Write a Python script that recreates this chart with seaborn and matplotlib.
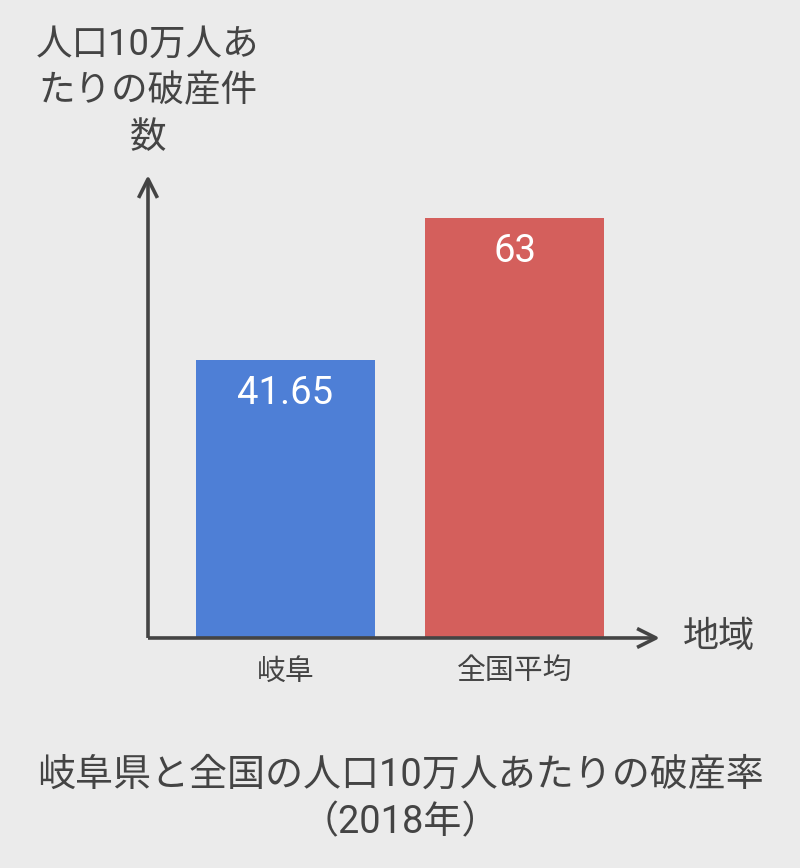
#!/usr/bin/env python3
"""
Bar chart: bankruptcies per 100k people, Gifu vs national average (2018).
"""
import matplotlib
matplotlib.use('Agg')
import matplotlib.pyplot as plt
import seaborn as sns
import pandas as pd

# Data
regions = ['岐阜', '全国平均']
rates = [41.65, 63]
bar_labels = ['41.65', '63']
colors = ['#4e7fd6', '#d45f5c']

title = '岐阜県と全国の人口10万人あたりの破産率\n（2018年）'
y_title = '人口10万人あ\nたりの破産件\n数'
x_title = '地域'

BG = '#ebebeb'
INK = '#444444'

sns.set_theme(style='white')
plt.rcParams['font.family'] = ['Roboto', 'Noto Sans CJK JP', 'DejaVu Sans']

df = pd.DataFrame({'region': regions, 'rate': rates})

fig = plt.figure(figsize=(8, 8.68), dpi=100, facecolor=BG)
ax = fig.add_axes([0.185, 0.265, 0.64, 0.5334])
ax.set_facecolor(BG)

sns.barplot(data=df, x='region', y='rate', hue='region', palette=colors,
            width=0.78, saturation=1, legend=False, linewidth=0, ax=ax)

ax.set_xlim(-0.6, 1.635)
ax.set_ylim(0, 69.45)

for s in ax.spines.values():
    s.set_visible(False)
ax.set_yticks([])
ax.set_xlabel('')
ax.set_ylabel('')
ax.tick_params(axis='x', length=0, pad=14, labelsize=20.8, labelcolor=INK)

# axis arrows
arrow = dict(arrowstyle='->', lw=2.6, color=INK, mutation_scale=34,
             shrinkA=0, shrinkB=0, capstyle='butt')
ax.annotate('', xy=(0, 1), xytext=(0, 0), xycoords='axes fraction',
            arrowprops=arrow, annotation_clip=False)
ax.annotate('', xy=(1, 0), xytext=(0, 0), xycoords='axes fraction',
            arrowprops=arrow, annotation_clip=False)

# value labels inside bars
for i, (v, lab) in enumerate(zip(rates, bar_labels)):
    ax.annotate(lab, xy=(i, v), xytext=(0, -24), textcoords='offset points',
                ha='center', va='center', color='white', fontsize=27.5)

fig.text(148 / 800, 1 - 91 / 868, y_title, ha='center', va='center',
         fontsize=26.3, color=INK, linespacing=1.38)
fig.text(683 / 800, 1 - 637 / 868, x_title, ha='left', va='center',
         fontsize=26, color=INK)
fig.text(0.5, 1 - 799 / 868, title, ha='center', va='center',
         fontsize=27.4, color=INK, linespacing=1.4)

fig.savefig('out.png', dpi=100, facecolor=BG)
